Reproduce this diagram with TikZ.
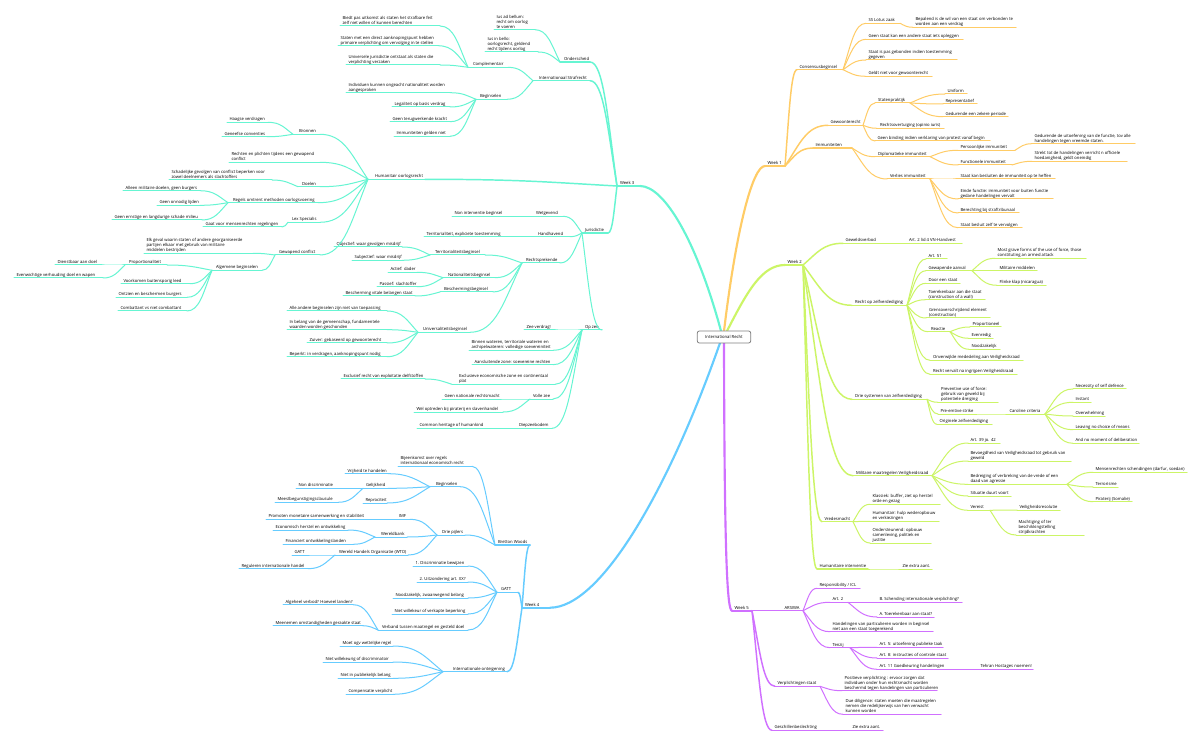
\documentclass[tikz,border=0pt]{standalone}
\usepackage{fontspec}
\setmainfont{Open Sans}
\usetikzlibrary{calc}
\definecolor{mint}{HTML}{66F5D2}
\definecolor{sky}{HTML}{66CCFF}
\definecolor{amber}{HTML}{FFCC66}
\definecolor{lime}{HTML}{CCF566}
\definecolor{violet}{HTML}{D070FF}
\tikzset{
  lva/.style={line width=1.6pt,line cap=round},
  lvb/.style={line width=1.1pt,line cap=round},
  lvc/.style={line width=0.75pt,line cap=round},
  txt/.style={inner sep=0pt,outer sep=0pt,anchor=south west,text=black},
  rootbox/.style={draw=black!50,fill=white,rounded corners=1.5pt,line width=0.6pt,minimum width=40pt,minimum height=9pt,inner sep=0pt,text=black}
}
\newlength\tnwidth
\newcommand\tn[6][2.5]{%
  \pgfmathsetlength\tnwidth{(#4-#3)*0.75pt}%
  \node[txt] (#2) at (#3,#5) {\makebox[\tnwidth][l]{\hspace{\dimexpr#1pt*3/4\relax}\begin{tabular}[b]{@{}l@{}}#6\end{tabular}}};%
}
\def\ca{.35}\def\cb{.55}\def\cc{.5}
\newcommand\lnk[3]{\draw[#1] let \p1=(#2), \p2=(#3), \n1={\x2-\x1}, \n2={\y2-\y1} in (\p1) .. controls +({\ca*\n1},{\cb*\n2}) and +({-\cc*\n1},0) .. (\p2);}
\newcommand\ul[2]{\draw[#1] (#2.south west) -- (#2.south east);}
\newcommand\lf[3]{\lnk{#1}{#2.south west}{#3.south east}\ul{#1}{#3}}
\newcommand\rt[3]{\lnk{#1}{#2.south east}{#3.south west}\ul{#1}{#3}}
\begin{document}
\begin{tikzpicture}[x=0.75pt,y=-0.75pt,every node/.append style={font=\fontsize{3.15pt}{3.75pt}\selectfont}]
\useasboundingbox (0,0) rectangle (1200,745);
\fill[white] (0,0) rectangle (1200,745);
\coordinate (r1) at (721,331);\coordinate (r2) at (724,331);\coordinate (r3) at (727,331);
\coordinate (r4) at (720,343);\coordinate (r5) at (724,343);

%% ---- Week 3
\begin{scope}[color=mint]
\tn[3]{w3}{617}{640}{186}{Week 3}
\tn[6]{strafrecht}{533}{590}{80.7}{Internationaal Strafrecht}
\tn[4]{onderscheid}{560}{590}{62}{Onderscheid}
\tn{iusad}{494}{535}{29.7}{Ius ad bellum:\\recht om oorlog\\te voeren}
\tn{iusin}{485}{538}{52}{Ius in bello:\\oorlogsrecht, geldend\\recht tijdens oorlog}
\tn[5]{compl}{468}{508}{67.3}{Complementair}
\tn{biedt}{340}{440}{26}{Biedt pas uitkomst als staten het strafbare feit\\zelf niet willen of kunnen berechten}
\tn{stmet}{338}{438}{45.7}{Staten met een direct aanknopingspunt hebben\\primaire verplichting om vervolging in te stellen}
\tn{univ}{346}{440}{65}{Universele jurisdictie ontstaat als staten die\\verplichting verzaken}
\tn[4]{begin}{476}{507}{99.3}{Beginselen}
\tn{indiv}{346}{450}{92.7}{Individuen kunnen ongeacht nationaliteit worden\\aangesproken}
\tn{legal}{392}{450}{107}{Legaliteit op basis verdrag}
\tn{terug}{390}{450}{121.7}{Geen terugwerkende kracht}
\tn{immun}{394}{450}{136.3}{Immuniteiten gelden niet}
\tn[7]{hum}{368}{425}{179.3}{Humanitair oorlogsrecht}
\tn[6]{bron}{293}{320}{134.3}{Bronnen}
\tn{haag}{227}{268}{122.3}{Haagse verdragen}
\tn{genf}{222}{267}{136.7}{Geneefse conventies}
\tn{rechten}{229}{320}{162.3}{Rechten en plichten tijdens een gewapend\\conflict}
\tn[4]{doelen}{298}{320}{186.7}{Doelen}
\tn{schad}{169}{272}{180}{Schadelijke gevolgen van conflict beperken voor\\zowel deelnemers als slachtoffers}
\tn[5]{regels}{228}{318}{202.7}{Regels omtrent methoden oorlogsvoering}
\tn{alleen}{123}{200}{190.7}{Alleen militaire doelen, geen burgers}
\tn{onnod}{157}{200}{205.3}{Geen onnodig lijden}
\tn{ernst}{112}{202}{220}{Geen ernstige en langdurige schade milieu}
\tn[4]{lex}{288}{320}{222.3}{Lex Specialis}
\tn{gaat}{203}{282}{227}{Gaat voor mensenrechten regelingen}
\tn[4]{gewap}{275}{320}{255}{Gewapend conflict}
\tn{elk}{144}{253}{253.3}{Elk geval waarin staten of andere georganiseerde\\partijen elkaar met gebruik van militaire\\middelen bestrijden}
\tn[4]{alg}{212}{262}{270.3}{Algemene beginselen}
\tn[4]{prop}{125}{167}{265}{Proportionaliteit}
\tn{dienst}{55}{100}{265}{Dienstbaar aan doel}
\tn{even}{14}{103}{278}{Evenwichtige verhouding doel en wapen}
\tn{voork}{121}{190}{283.7}{Voorkomen buitensporig leed}
\tn{ontz}{116}{187}{297.3}{Ontzien en beschermen burgers}
\tn{comb}{118}{187}{311}{Combattant vs niet combattant}
\tn[3]{jur}{582}{608}{233}{Jurisdictie}
\tn[3]{wet}{533}{563}{216.3}{Wetgevend}
\tn{nonint}{452}{503}{216.3}{Non interventie beginsel}
\tn[3]{hand}{535}{570}{236.7}{Handhavend}
\tn{terrexp}{424}{505}{236.7}{Territorialiteit, expliciete toestemming}
\tn[4]{rechts}{522}{560}{263}{Rechtsprekende}
\tn[5]{terrb}{430}{485}{255}{Territorialiteitsbeginsel}
\tn{obj}{334}{402}{247}{Objectief: waar gevolgen misdrijf}
\tn{subj}{352}{402}{260.3}{Subjectief: waar misdrijf}
\tn[5]{natb}{443}{495}{277.7}{Nationaliteitsbeginsel}
\tn{actief}{388}{417}{272.3}{Actief: dader}
\tn{pass}{377}{417}{286.7}{Passief: slachtoffer}
\tn[4]{beschb}{440}{493}{292}{Beschermingsbeginsel}
\tn{vitaal}{343}{415}{296}{Bescherming vitale belangen staat}
\tn[5]{univb}{418}{470}{332.3}{Universaliteitsbeginsel}
\tn{alle}{287}{387}{311}{Alle andere beginselen zijn niet van toepassing}
\tn{belang}{287}{387}{329.7}{In belang van de gemeenschap, fundamentele\\waarden worden geschonden}
\tn{zuiver}{307}{387}{343}{Zuiver: gebaseerd op gewoonterecht}
\tn{beperkt}{287}{387}{356.7}{Beperkt: in verdragen, aanknopingspunt nodig}
\tn[3]{opzee}{582}{602}{330}{Op zee}
\tn{zeev}{524}{553}{330}{Zee verdrag!}
\tn{binnen}{469}{553}{350.3}{Binnen wateren, territoriale wateren en\\archipelwateren: volledige soevereiniteit}
\tn{aansl}{472}{553}{364.7}{Aansluitende zone: soevereine rechten}
\tn[7]{excl}{452}{555}{384.3}{Exclusieve economische zone en continentaal\\plat}
\tn{exrecht}{341}{425}{379}{Exclusief recht van exploitatie delfstoffen}
\tn[3]{volle}{530}{553}{399}{Volle zee}
\tn{geennat}{442}{500}{399}{Geen nationale rechtsmacht}
\tn{weloptr}{414}{503}{412}{Wel optreden bij piraterij en slavenhandel}
\tn[2]{diep}{517}{552}{428.3}{Diepzeebodem}
\tn{common}{417}{487}{428.3}{Common heritage of humankind}

\begingroup\def\ca{.3}\def\cb{.62}\def\cc{.3}
\lnk{lva}{r1}{w3.south east}\ul{lva}{w3}
\endgroup
\lf{lvb}{w3}{strafrecht}\lf{lvb}{w3}{onderscheid}\lf{lvb}{w3}{hum}\lf{lvb}{w3}{jur}
\lf{lvc}{onderscheid}{iusad}\lf{lvc}{onderscheid}{iusin}
\lf{lvc}{strafrecht}{compl}\lf{lvc}{strafrecht}{begin}
\lf{lvc}{compl}{biedt}\lf{lvc}{compl}{stmet}\lf{lvc}{compl}{univ}
\lf{lvc}{begin}{indiv}\lf{lvc}{begin}{legal}\lf{lvc}{begin}{terug}\lf{lvc}{begin}{immun}
\lf{lvc}{hum}{bron}\lf{lvc}{hum}{rechten}\lf{lvc}{hum}{doelen}\lf{lvc}{hum}{regels}\lf{lvc}{hum}{lex}\lf{lvc}{hum}{gewap}
\lf{lvc}{bron}{haag}\lf{lvc}{bron}{genf}
\lf{lvc}{doelen}{schad}
\lf{lvc}{regels}{alleen}\lf{lvc}{regels}{onnod}\lf{lvc}{regels}{ernst}
\lf{lvc}{lex}{gaat}
\lf{lvc}{gewap}{elk}\lf{lvc}{gewap}{alg}
\lf{lvc}{alg}{prop}\lf{lvc}{alg}{voork}\lf{lvc}{alg}{ontz}\lf{lvc}{alg}{comb}
\lf{lvc}{prop}{dienst}\lf{lvc}{prop}{even}
\lf{lvc}{jur}{wet}\lf{lvc}{jur}{hand}\lf{lvc}{jur}{rechts}\lf{lvc}{jur}{opzee}
\lf{lvc}{wet}{nonint}\lf{lvc}{hand}{terrexp}
\lf{lvc}{rechts}{terrb}\lf{lvc}{rechts}{natb}\lf{lvc}{rechts}{beschb}\lf{lvc}{rechts}{univb}
\lf{lvc}{terrb}{obj}\lf{lvc}{terrb}{subj}
\lf{lvc}{natb}{actief}\lf{lvc}{natb}{pass}
\lf{lvc}{beschb}{vitaal}
\lf{lvc}{univb}{alle}\lf{lvc}{univb}{belang}\lf{lvc}{univb}{zuiver}\lf{lvc}{univb}{beperkt}
\lf{lvc}{opzee}{zeev}\lf{lvc}{opzee}{binnen}\lf{lvc}{opzee}{aansl}\lf{lvc}{opzee}{excl}\lf{lvc}{opzee}{volle}\lf{lvc}{opzee}{diep}
\lf{lvc}{excl}{exrecht}\lf{lvc}{volle}{geennat}\lf{lvc}{volle}{weloptr}\lf{lvc}{diep}{common}
\end{scope}

%% ---- Week 4
\begin{scope}[color=sky]
\tn[3]{w4}{522}{550}{607.7}{Week 4}
\tn[3]{bretton}{495}{530}{545}{Bretton Woods}
\tn{bijeen}{398}{472}{466.3}{Bijeenkomst over regels\\internationaal economisch recht}
\tn[6]{bbeg}{430}{460}{486.7}{Beginselen}
\tn{vrij}{345}{388}{473.7}{Vrijheid te handelen}
\tn[3]{gelijk}{363}{388}{488.3}{Gelijkheid}
\tn{repro}{363}{387}{503}{Reprociteit}
\tn{nondis}{296}{335}{488.3}{Non discriminatie}
\tn{meest}{275}{338}{502.3}{Meestbegunstigingsclausule}
\tn[5]{pijlers}{437}{465}{535}{Drie pijlers}
\tn[2]{imf}{397}{410}{519.3}{IMF}
\tn{promo}{266}{365}{519.3}{Promoten monetaire samenwerking en stabiliteit}
\tn[6]{wbank}{375}{407}{537}{Wereldbank}
\tn{econ}{273}{348}{530}{Economisch herstel en ontwikkeling}
\tn{finan}{283}{353}{544.3}{Financiert ontwikkelingslanden}
\tn[4]{wto}{335}{408}{555}{Wereld Handels Organisatie (WTO)}
\tn{gattl}{292}{307}{555}{GATT}
\tn{regul}{239}{308}{568.7}{Reguleren internationale handel}
\tn[4]{gatt}{497}{518}{592.3}{GATT}
\tn{disc}{413}{468}{566}{1. Discriminatie bewijzen}
\tn{uitz}{417}{468}{582}{2. Uitzondering art. XX?}
\tn{nood}{393}{468}{598}{Noodzakelijk, zwaarwegend belang}
\tn{willek}{392}{468}{614}{Niet willekeur of verkapte beperking}
\tn[4]{verband}{378}{468}{630}{Verband tussen maatregel en gesteld doel}
\tn{algeh}{283}{353}{604.7}{Algeheel verbod? Hoeveel landen?}
\tn{meen}{273}{362}{625.7}{Meenemen omstandigheden geraakte staat}
\tn[10]{onteig}{443}{507}{671.7}{Internationale onteigening}
\tn{moet}{340}{393}{646}{Moet ogv wettelijke regel}
\tn{nwill}{323}{393}{662}{Niet willekeurig of discriminatoir}
\tn{npub}{338}{393}{678.3}{Niet in publiekelijk belang}
\tn{comp}{346}{393}{694.3}{Compensatie verplicht}

\begingroup\def\ca{.3}\def\cb{.55}\def\cc{.3}
\lnk{lva}{r4}{w4.south east}\ul{lva}{w4}
\endgroup
\lf{lvb}{w4}{bretton}\lf{lvb}{w4}{gatt}\lf{lvb}{w4}{onteig}
\lf{lvc}{bretton}{bijeen}\lf{lvc}{bretton}{bbeg}\lf{lvc}{bretton}{pijlers}
\lf{lvc}{bbeg}{vrij}\lf{lvc}{bbeg}{gelijk}\lf{lvc}{bbeg}{repro}
\lf{lvc}{gelijk}{nondis}\lf{lvc}{gelijk}{meest}
\lf{lvc}{pijlers}{imf}\lf{lvc}{pijlers}{wbank}\lf{lvc}{pijlers}{wto}
\lf{lvc}{imf}{promo}\lf{lvc}{wbank}{econ}\lf{lvc}{wbank}{finan}
\lf{lvc}{wto}{gattl}\lf{lvc}{wto}{regul}
\lf{lvc}{gatt}{disc}\lf{lvc}{gatt}{uitz}\lf{lvc}{gatt}{nood}\lf{lvc}{gatt}{willek}\lf{lvc}{gatt}{verband}
\lf{lvc}{verband}{algeh}\lf{lvc}{verband}{meen}
\lf{lvc}{onteig}{moet}\lf{lvc}{onteig}{nwill}\lf{lvc}{onteig}{npub}\lf{lvc}{onteig}{comp}
\end{scope}

%% ---- Week 1
\begin{scope}[color=amber]
\tn{w1}{765}{785}{166}{Week 1}
\tn{cons}{797}{843}{69.7}{Consensusbeginsel}
\tn{gewoon}{828}{863}{125.3}{Gewoonterecht}
\tn{immu}{813}{852}{148}{Immuniteiten}
\tn{lotus}{866}{900}{23.3}{SS Lotus zaak}
\tn{bepal}{913}{1016}{27.3}{Bepalend is de wil van een staat om verbonden te\\worden aan een verdrag}
\tn{geenst}{866}{963}{39.3}{Geen staat kan een andere staat iets opleggen}
\tn{staatp}{866}{957}{60}{Staat is pas gebonden indien toestemming\\gegeven}
\tn{geldt}{866}{932}{76.3}{Geldt niet voor gewoonterecht}
\tn[3]{praktijk}{875}{910}{103}{Statenpraktijk}
\tn{uniform}{945}{967}{94}{Uniform}
\tn{repr}{943}{977}{104}{Representatief}
\tn{geduren}{943}{1008}{116.7}{Gedurende een zekere periode}
\tn[3]{opinio}{877}{944}{128.3}{Rechtsovertuiging (opinio iuris)}
\tn{binding}{875}{990}{141}{Geen binding indien verklaring van protest vanaf begin}
\tn[3]{dipl}{875}{930}{156.7}{Diplomatieke immuniteit}
\tn{pers}{958}{1015}{150.3}{Persoonlijke immuniteit}
\tn{funct}{958}{1012}{165}{Functionele immuniteit}
\tn{uitoef}{1032}{1135}{143.7}{Gedurende de uitoefening van de functie, tov alle\\handelingen tegen vreemde staten.}
\tn{strekt}{1032}{1127}{161.3}{Strekt tot de handelingen verricht n officiele\\hoedanigheid, geldt oneindig}
\tn[3]{verlies}{887}{930}{179}{Verlies immuniteit}
\tn{skb}{958}{1055}{179}{Staat kan besluiten de immuniteit op te heffen}
\tn{einde}{958}{1053}{199}{Einde functie: immuniteit voor buiten functie\\gedane handelingen vervalt}
\tn{berecht}{958}{1019}{213}{Berechting bij straftribunaal}
\tn{sbz}{958}{1022}{227.7}{Staat besluit zelf te vervolgen}

\begingroup\def\ca{.3}\def\cb{.62}\def\cc{.3}
\lnk{lva}{r2}{w1.south west}\ul{lva}{w1}
\endgroup
\rt{lvb}{w1}{cons}\rt{lvb}{w1}{gewoon}\rt{lvb}{w1}{immu}
\rt{lvc}{cons}{lotus}\rt{lvc}{cons}{geenst}\rt{lvc}{cons}{staatp}\rt{lvc}{cons}{geldt}
\rt{lvc}{lotus}{bepal}
\rt{lvc}{gewoon}{praktijk}\rt{lvc}{gewoon}{opinio}\rt{lvc}{gewoon}{binding}
\rt{lvc}{praktijk}{uniform}\rt{lvc}{praktijk}{repr}\rt{lvc}{praktijk}{geduren}
\rt{lvc}{immu}{dipl}\rt{lvc}{immu}{verlies}
\rt{lvc}{dipl}{pers}\rt{lvc}{dipl}{funct}
\rt{lvc}{pers}{uitoef}\rt{lvc}{funct}{strekt}
\rt{lvc}{verlies}{skb}\rt{lvc}{verlies}{einde}\rt{lvc}{verlies}{berecht}\rt{lvc}{verlies}{sbz}
\end{scope}

%% ---- Week 2
\begin{scope}[color=lime]
\tn{w2}{785}{803}{265}{Week 2}
\tn{geweld}{843}{882}{243.3}{Geweldsverbod}
\tn[4]{art24}{905}{962}{243.3}{Art. 2 lid 4 VN-Handvest}
\tn[3]{zelfv}{852}{907}{305.3}{Recht op zelfverdediging}
\tn{art51}{926}{947}{259}{Art. 51}
\tn{aanval}{926}{972}{270.7}{Gewapende aanval}
\tn{doorst}{926}{960}{283.3}{Door een staat}
\tn{toerek}{926}{985}{299.7}{Toerekenbaar aan die staat\\(construction of a wall)}
\tn[3]{grens}{926}{990}{318}{Grensoverschrijdend element\\(construction)}
\tn[3]{reactie}{928}{950}{331.7}{Reactie}
\tn[3]{onverw}{930}{1023}{360.3}{Onverwijlde mededeling aan Veiligheidsraad}
\tn[3]{vervalt}{930}{1017}{374.3}{Recht vervalt na ingrijpen Veiligheidsraad}
\tn{grave}{995}{1086}{258.3}{Most grave forms of the use of force, those\\constituting an armed attack}
\tn{milit}{997}{1037}{270.7}{Militaire middelen}
\tn{flinke}{997}{1046}{285.3}{Flinke klap (nicaragua)}
\tn{propo}{970}{1001}{327}{Proportioneel}
\tn{evenr}{969}{993}{338.3}{Evenredig}
\tn{noodz}{969}{1000}{349.3}{Noodzakelijk}
\tn[3]{dries}{852}{927}{399.3}{Drie systemen van zelfverdediging}
\tn[3]{prev}{938}{998}{402.3}{Preventive use of force:\\gebruik van geweld bij\\potentiele dreiging}
\tn{preem}{938}{975}{414}{Pre-emtive strike}
\tn{carol}{1007}{1045}{414}{Caroline criteria}
\tn{orig}{937}{992}{424.3}{Originele zelfverdediging}
\tn{neces}{1073}{1126}{389}{Necessity of self defence}
\tn{inst}{1073}{1091}{402.3}{Instant}
\tn{overw}{1073}{1105}{416}{Overwhelming}
\tn{leav}{1073}{1130}{429.7}{Leaving no choice of means}
\tn{nomom}{1073}{1139}{443.3}{And no moment of deliberation}
\tn[3]{milm}{853}{932}{475.7}{Militaire maatregelen Veiligheidsraad}
\tn{art39}{968}{1000}{443}{Art. 39 jo. 42}
\tn{bevoeg}{968}{1071}{461}{Bevoegdheid van Veiligheidsraad tot gebruik van\\geweld}
\tn{bedr}{968}{1067}{484.3}{Bedreiging of verbreking van de vrede of een\\daad van agressie}
\tn{situ}{968}{1011}{496}{Situatie duurt voort}
\tn{vereist}{968}{990}{510.3}{Vereist}
\tn{mens}{1093}{1187}{472.3}{Mensenrechten schendingen (darfur, soedan)}
\tn{terror}{1093}{1118}{487}{Terrorisme}
\tn{pirat}{1093}{1132}{501.7}{Piraterij (Somalie)}
\tn{vres}{1017}{1060}{510}{Veiligheidsresolutie}
\tn{macht}{1016}{1084}{535}{Machtiging of ter\\beschikkingstelling\\strijdkrachten}
\tn{vredes}{822}{853}{521.7}{Vredesmacht}
\tn{klass}{870}{940}{504.3}{Klassiek: buffer, ziet op herstel\\orde en gezag}
\tn{humh}{870}{939}{521.3}{Humanitair: hulp wederopbouw\\en verkiezingen}
\tn{onder}{870}{931}{543}{Ondersteunend: opbouw\\samenleving, politiek en\\justitie}
\tn{huminter}{817}{868}{569}{Humanitaire interventie}
\tn{ziea}{900}{932}{569}{Zie extra aant.}

\begingroup\def\ca{.35}\def\cb{.6}\def\cc{.4}
\lnk{lva}{r3}{w2.south west}\ul{lva}{w2}
\endgroup
\rt{lvb}{w2}{geweld}\rt{lvb}{w2}{zelfv}\rt{lvb}{w2}{dries}\rt{lvb}{w2}{milm}\rt{lvb}{w2}{vredes}\rt{lvb}{w2}{huminter}
\rt{lvc}{geweld}{art24}
\rt{lvc}{zelfv}{art51}\rt{lvc}{zelfv}{aanval}\rt{lvc}{zelfv}{doorst}\rt{lvc}{zelfv}{toerek}\rt{lvc}{zelfv}{grens}\rt{lvc}{zelfv}{reactie}\rt{lvc}{zelfv}{onverw}\rt{lvc}{zelfv}{vervalt}
\rt{lvc}{aanval}{grave}\rt{lvc}{aanval}{milit}\rt{lvc}{aanval}{flinke}
\rt{lvc}{reactie}{propo}\rt{lvc}{reactie}{evenr}\rt{lvc}{reactie}{noodz}
\rt{lvc}{dries}{prev}\rt{lvc}{dries}{preem}\rt{lvc}{dries}{orig}
\rt{lvc}{preem}{carol}
\rt{lvc}{carol}{neces}\rt{lvc}{carol}{inst}\rt{lvc}{carol}{overw}\rt{lvc}{carol}{leav}\rt{lvc}{carol}{nomom}
\rt{lvc}{milm}{art39}\rt{lvc}{milm}{bevoeg}\rt{lvc}{milm}{bedr}\rt{lvc}{milm}{situ}\rt{lvc}{milm}{vereist}
\rt{lvc}{bedr}{mens}\rt{lvc}{bedr}{terror}\rt{lvc}{bedr}{pirat}
\rt{lvc}{vereist}{vres}\rt{lvc}{vereist}{macht}
\rt{lvc}{vredes}{klass}\rt{lvc}{vredes}{humh}\rt{lvc}{vredes}{onder}
\rt{lvc}{huminter}{ziea}
\end{scope}

%% ---- Week 5
\begin{scope}[color=violet]
\tn{w5}{732}{752}{610.7}{Week 5}
\tn{arsiwa}{782}{803}{610.7}{ARSIWA}
\tn{resp}{817}{860}{588.3}{Responsibility / ICL}
\tn{art2}{830}{848}{602.3}{Art. 2}
\tn{schend}{877}{962}{602.3}{B. Schending internationale verplichting?}
\tn{atoer}{877}{934}{617}{A. Toerekenbaar aan staat?}
\tn{handel}{830}{933}{631.7}{Handelingen van particulieren worden in beginsel\\niet aan een staat toegerekend}
\tn{tenzij}{830}{850}{647.7}{Tenzij}
\tn{art5}{877}{943}{647.3}{Art. 5: uitoefening publieke taak}
\tn{art8}{877}{948}{658}{Art. 8: instructies of controle staat}
\tn{art11}{877}{947}{669.3}{Art. 11 Goedkeuring handelingen}
\tn{tehran}{978}{1033}{669.3}{Tehran Hostages noemen!}
\tn{verpl}{775}{820}{686.3}{Verplichtingen staat}
\tn{posit}{842}{937}{690.7}{Positieve verplichting : ervoor zorgen dat\\individuen onder hun rechtsmacht worden\\beschermd tegen handelingen van particulieren}
\tn{dued}{843}{941}{714.3}{Due diligence: staten moeten die maatregelen\\nemen die redelijkerwijs van hen verwacht\\kunnen worden}
\tn{gesch}{772}{820}{730.3}{Geschillenbeslechting}
\tn{ziee}{850}{883}{730.3}{Zie extra aant.}

\begingroup\def\ca{.05}\def\cb{.8}\def\cc{.6}
\lnk{lva}{r5}{w5.south west}\ul{lva}{w5}
\endgroup
\rt{lvb}{w5}{arsiwa}\rt{lvb}{w5}{verpl}\rt{lvb}{w5}{gesch}
\rt{lvc}{arsiwa}{resp}\rt{lvc}{arsiwa}{art2}\rt{lvc}{arsiwa}{handel}\rt{lvc}{arsiwa}{tenzij}
\rt{lvc}{art2}{schend}\rt{lvc}{art2}{atoer}
\rt{lvc}{tenzij}{art5}\rt{lvc}{tenzij}{art8}\rt{lvc}{tenzij}{art11}
\rt{lvc}{art11}{tehran}
\rt{lvc}{verpl}{posit}\rt{lvc}{verpl}{dued}
\rt{lvc}{gesch}{ziee}
\end{scope}
\node[rootbox] (root) at (724,337) {International Recht};
\end{tikzpicture}
\end{document}
